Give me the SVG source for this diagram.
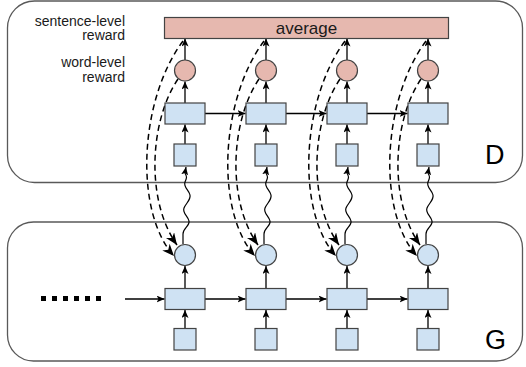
<svg xmlns="http://www.w3.org/2000/svg" width="526" height="367" viewBox="0 0 526 367">
<defs>
<marker id="a" markerUnits="userSpaceOnUse" markerWidth="10" markerHeight="8" refX="8" refY="3.5" orient="auto"><path d="M0,0 L8,3.5 L0,7 L2,3.5 z" fill="#000"/></marker>
<marker id="b" markerUnits="userSpaceOnUse" markerWidth="14" markerHeight="12" refX="12" refY="5" orient="auto"><path d="M0,0 L12,5 L0,10 L3.5,5 z" fill="#000"/></marker>
<style>
.cont{fill:#fff;stroke:#595959;stroke-width:1.3}
.red{fill:#e6b8af;stroke:#434343;stroke-width:1.2}
.blue{fill:#cfe2f3;stroke:#434343;stroke-width:1.2}
.s{fill:none;stroke:#000;stroke-width:1.3;marker-end:url(#a)}
.d{fill:none;stroke:#000;stroke-width:1.5;stroke-dasharray:6 4;marker-end:url(#b)}
.w{fill:none;stroke:#000;stroke-width:1.2;marker-end:url(#a)}
.lbl{font-family:"Liberation Sans",Arial,sans-serif;font-size:14px;fill:#1a1a1a;text-anchor:end}
.big{font-family:"Liberation Sans",Arial,sans-serif;font-size:27px;fill:#000}
</style>
</defs>
<g id="D">
<rect class="cont" x="7.5" y="1" width="515" height="181.5" rx="27"/>
<text class="big" x="485" y="164">D</text>
</g>
<g id="G">
<rect class="cont" x="7.5" y="222" width="515" height="139" rx="26"/>
<text class="big" x="485" y="349">G</text>
</g>
<g id="labels">
<text class="lbl" x="125" y="25.5">sentence-level</text>
<text class="lbl" x="125" y="40">reward</text>
<text class="lbl" x="125" y="67">word-level</text>
<text class="lbl" x="125" y="81.5">reward</text>
</g>
<g id="dots"><line x1="41" y1="298.5" x2="101" y2="298.5" stroke="#000" stroke-width="5" stroke-dasharray="5 6"/></g>
<g id="connectors">
<!-- column 1 -->
<path class="s" d="M185,144 L185,124.5"/><path class="s" d="M185,103 L185,81.5"/><path class="s" d="M185,60 L185,38.5"/>
<path class="s" d="M185,328.5 L185,310"/><path class="s" d="M185,288.5 L185,266"/>
<path class="w" d="M183,244 l0,-10 c0,-6 7,-8 6,-13 s-7,-8 -5,-13 s7,-8 6,-13 s-7,-8 -5,-13 s2,-5 0,-9 l1,-6"/>
<path class="d" d="M183,41 C139,100 134,212 174,256"/>
<path class="d" d="M178,79 C150,120 145,200 177,245"/>
<!-- column 2 -->
<path class="s" d="M266,144 L266,124.5"/><path class="s" d="M266,103 L266,81.5"/><path class="s" d="M266,60 L266,38.5"/>
<path class="s" d="M266,328.5 L266,310"/><path class="s" d="M266,288.5 L266,266"/>
<path class="w" d="M264,244 l0,-10 c0,-6 7,-8 6,-13 s-7,-8 -5,-13 s7,-8 6,-13 s-7,-8 -5,-13 s2,-5 0,-9 l1,-6"/>
<path class="d" d="M264,41 C220,100 215,212 255,256"/>
<path class="d" d="M259,79 C231,120 226,200 258,245"/>
<!-- column 3 -->
<path class="s" d="M347,144 L347,124.5"/><path class="s" d="M347,103 L347,81.5"/><path class="s" d="M347,60 L347,38.5"/>
<path class="s" d="M347,328.5 L347,310"/><path class="s" d="M347,288.5 L347,266"/>
<path class="w" d="M345,244 l0,-10 c0,-6 7,-8 6,-13 s-7,-8 -5,-13 s7,-8 6,-13 s-7,-8 -5,-13 s2,-5 0,-9 l1,-6"/>
<path class="d" d="M345,41 C301,100 296,212 336,256"/>
<path class="d" d="M340,79 C312,120 307,200 339,245"/>
<!-- column 4 -->
<path class="s" d="M428,144 L428,124.5"/><path class="s" d="M428,103 L428,81.5"/><path class="s" d="M428,60 L428,38.5"/>
<path class="s" d="M428,328.5 L428,310"/><path class="s" d="M428,288.5 L428,266"/>
<path class="w" d="M426,244 l0,-10 c0,-6 7,-8 6,-13 s-7,-8 -5,-13 s7,-8 6,-13 s-7,-8 -5,-13 s2,-5 0,-9 l1,-6"/>
<path class="d" d="M426,41 C382,100 377,212 417,256"/>
<path class="d" d="M421,79 C393,120 388,200 420,245"/>
<!-- horizontal -->
<path class="s" d="M205,113.5 L245.5,113.5"/><path class="s" d="M286,113.5 L326.5,113.5"/><path class="s" d="M367,113.5 L407.5,113.5"/>
<path class="s" d="M125,299 L164.5,299"/><path class="s" d="M205,299 L245.5,299"/><path class="s" d="M286,299 L326.5,299"/><path class="s" d="M367,299 L407.5,299"/>
</g>
<g id="average"><rect class="red" x="164.5" y="17.5" width="284" height="21"/><text x="306.5" y="33.5" text-anchor="middle" font-family="Liberation Sans, Arial, sans-serif" font-size="17" fill="#1a1a1a">average</text></g>
<g id="r1"><circle class="red" cx="185" cy="70.5" r="10.5"/></g>
<g id="r2"><circle class="red" cx="266" cy="70.5" r="10.5"/></g>
<g id="r3"><circle class="red" cx="347" cy="70.5" r="10.5"/></g>
<g id="r4"><circle class="red" cx="428" cy="70.5" r="10.5"/></g>
<g id="dh1"><rect class="blue" x="165" y="103" width="40" height="21"/></g>
<g id="dh2"><rect class="blue" x="246" y="103" width="40" height="21"/></g>
<g id="dh3"><rect class="blue" x="327" y="103" width="40" height="21"/></g>
<g id="dh4"><rect class="blue" x="408" y="103" width="40" height="21"/></g>
<g id="dx1"><rect class="blue" x="174" y="144" width="22" height="22"/></g>
<g id="dx2"><rect class="blue" x="255" y="144" width="22" height="22"/></g>
<g id="dx3"><rect class="blue" x="336" y="144" width="22" height="22"/></g>
<g id="dx4"><rect class="blue" x="417" y="144" width="22" height="22"/></g>
<g id="gy1"><circle class="blue" cx="185" cy="255" r="10.5"/></g>
<g id="gy2"><circle class="blue" cx="266" cy="255" r="10.5"/></g>
<g id="gy3"><circle class="blue" cx="347" cy="255" r="10.5"/></g>
<g id="gy4"><circle class="blue" cx="428" cy="255" r="10.5"/></g>
<g id="gh1"><rect class="blue" x="165" y="288.5" width="40" height="21"/></g>
<g id="gh2"><rect class="blue" x="246" y="288.5" width="40" height="21"/></g>
<g id="gh3"><rect class="blue" x="327" y="288.5" width="40" height="21"/></g>
<g id="gh4"><rect class="blue" x="408" y="288.5" width="40" height="21"/></g>
<g id="gx1"><rect class="blue" x="174" y="328.5" width="22" height="21.5"/></g>
<g id="gx2"><rect class="blue" x="255" y="328.5" width="22" height="21.5"/></g>
<g id="gx3"><rect class="blue" x="336" y="328.5" width="22" height="21.5"/></g>
<g id="gx4"><rect class="blue" x="417" y="328.5" width="22" height="21.5"/></g>
</svg>
